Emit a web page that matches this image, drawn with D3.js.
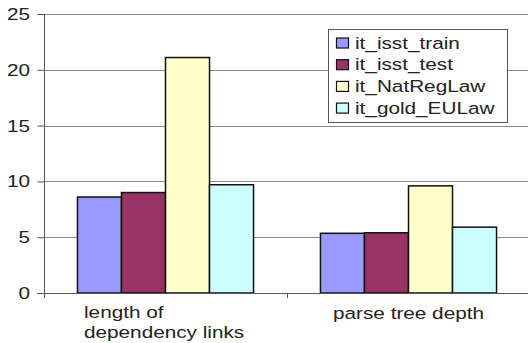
<!DOCTYPE html>
<html>
<head>
<meta charset="utf-8">
<script src="https://cdn.jsdelivr.net/npm/d3@7"></script>
<style>
  html, body { margin: 0; padding: 0; background: #fff; }
  svg { display: block; font-family: "Liberation Sans", Arial, sans-serif; }
</style>
</head>
<body>
<svg id="chart" width="528" height="343"></svg>
<script>
// Chart data
const categories = [["length of", "dependency links"], ["parse tree depth"]];
const seriesNames = ["it_isst_train", "it_isst_test", "it_NatRegLaw", "it_gold_EULaw"];
const seriesColors = ["#9999ff", "#993366", "#ffffcc", "#ccffff"];
const values = [
  [8.6, 5.35],   // it_isst_train
  [9.0, 5.4],    // it_isst_test
  [21.1, 9.6],   // it_NatRegLaw
  [9.7, 5.9]     // it_gold_EULaw
];
const yTicks = [0, 5, 10, 15, 20, 25];

const svg = d3.select("#chart");
const plotLeft = 44, plotRight = 530, plotTop = 14, plotBottom = 293;
const fontSize = 17, stretch = 1.22;   // text is drawn slightly widened

const x0 = d3.scaleBand().domain(d3.range(categories.length)).range([plotLeft, plotRight]);
const x1 = d3.scaleBand().domain(d3.range(seriesNames.length))
  .range([0, x0.bandwidth()]).paddingOuter(0.76).paddingInner(0);
const y = d3.scaleLinear().domain([0, 25]).range([plotBottom, plotTop]);

// places a widened text label with its anchor at (x, y)
function label(parent, x, yPos, text, anchor) {
  return parent.append("g")
    .attr("transform", `translate(${x},${yPos}) scale(${stretch},1)`)
    .append("text")
    .attr("font-size", fontSize).attr("fill", "#222")
    .attr("text-anchor", anchor || "start")
    .text(text);
}

// horizontal grid lines
svg.append("g").selectAll("line").data(yTicks.filter(d => d > 0)).join("line")
  .attr("x1", plotLeft).attr("x2", plotRight)
  .attr("y1", d => Math.round(y(d)) + 0.5).attr("y2", d => Math.round(y(d)) + 0.5)
  .attr("stroke", "#8a8a8a").attr("stroke-width", 1);

// bars
const groups = svg.append("g").selectAll("g").data(categories).join("g")
  .attr("transform", (d, i) => `translate(${x0(i)},0)`);
groups.selectAll("rect")
  .data((d, ci) => seriesNames.map((s, si) => ({ si, v: values[si][ci] })))
  .join("rect")
  .attr("x", d => x1(d.si))
  .attr("width", x1.bandwidth())
  .attr("y", d => y(d.v))
  .attr("height", d => y(0) - y(d.v))
  .attr("fill", d => seriesColors[d.si])
  .attr("stroke", "#111")
  .attr("stroke-width", 1.5);

// y axis
const yAxis = d3.axisLeft(y).tickValues(yTicks).tickSize(7).tickPadding(6);
const yg = svg.append("g").attr("transform", `translate(${plotLeft + 0.5},0)`).call(yAxis);
yg.select(".domain").attr("d", `M0,${plotTop}V${plotBottom + 5}`).attr("stroke", "#555");
yg.selectAll(".tick line").attr("stroke", "#555");
yg.selectAll(".tick text")
  .attr("font-size", fontSize).attr("fill", "#222")
  .attr("font-family", "Liberation Sans, Arial, sans-serif")
  .attr("x", -14.5 / stretch)
  .attr("transform", `scale(${stretch},1)`);

// x axis baseline and category separators
svg.append("line").attr("x1", plotLeft - 7).attr("x2", plotRight)
  .attr("y1", plotBottom + 0.5).attr("y2", plotBottom + 0.5).attr("stroke", "#555");
svg.append("g").selectAll("line").data(d3.range(1, categories.length)).join("line")
  .attr("x1", i => Math.round(x0(i)) + 0.5).attr("x2", i => Math.round(x0(i)) + 0.5)
  .attr("y1", plotBottom).attr("y2", plotBottom + 5).attr("stroke", "#555");

// category labels
const catLayer = svg.append("g");
categories.forEach((lines, i) => {
  lines.forEach((line, li) => {
    if (lines.length > 1) {
      label(catLayer, x0(i) + 40, 318 + li * 20, line, "start");
    } else {
      label(catLayer, x0(i) + x0.bandwidth() / 2, 319, line, "middle");
    }
  });
});

// legend
const lg = svg.append("g").attr("transform", "translate(328.5,29.5)");
lg.append("rect").attr("width", 179).attr("height", 93)
  .attr("fill", "#fff").attr("stroke", "#555").attr("stroke-width", 1);
seriesNames.forEach((name, i) => {
  const rowY = 13.5 + i * 21.7;
  lg.append("rect").attr("x", 8).attr("y", rowY - 5).attr("width", 12).attr("height", 10)
    .attr("fill", seriesColors[i]).attr("stroke", "#111").attr("stroke-width", 1.2);
  label(lg, 26.5, rowY + 5.5, name, "start");
});
</script>
</body>
</html>
